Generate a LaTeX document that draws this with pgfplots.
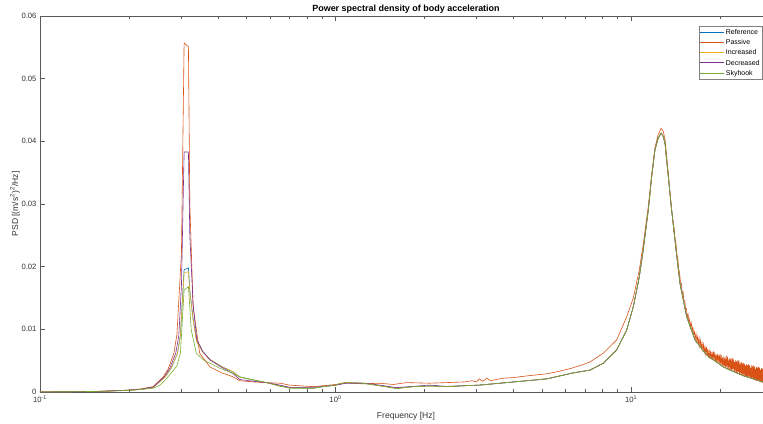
\documentclass[border=0pt]{standalone}
\usepackage{fontspec}
\setmainfont{Liberation Sans}
\usepackage{pgfplots}
\pgfplotsset{compat=1.18}
\definecolor{mBlue}{rgb}{0,0.447,0.741}
\definecolor{mOrange}{rgb}{0.85,0.325,0.098}
\definecolor{mYellow}{rgb}{0.929,0.694,0.125}
\definecolor{mPurple}{rgb}{0.494,0.184,0.556}
\definecolor{mGreen}{rgb}{0.466,0.674,0.188}
\begin{document}
\begin{tikzpicture}
\begin{semilogxaxis}[
  scale only axis, width=732bp, height=376bp,
  xmin=0.1, xmax=30, ymin=0, ymax=0.06,
  scaled y ticks=false,
  xtick={0.1,1,10},
  xticklabels={10\textsuperscript{-1},10\textsuperscript{0},10\textsuperscript{1}},
  minor xtick={0.2,0.3,0.4,0.5,0.6,0.7,0.8,0.9,2,3,4,5,6,7,8,9,20,30},
  ytick={0,0.01,0.02,0.03,0.04,0.05,0.06},
  yticklabels={0,0.01,0.02,0.03,0.04,0.05,0.06},
  major tick length=5bp, minor tick length=3bp,
  tick style={black!65, line width=0.5bp},
  axis line style={black!65, line width=0.5bp},
  ticklabel style={font=\fontsize{7.7}{9}\selectfont, text=black!80},
  every axis title shift=0pt,
  title={Power spectral density of body acceleration},
  title style={font=\fontsize{9}{10}\selectfont\bfseries, at={(axis description cs:0.5,1.019)}, anchor=center},
  xlabel={Frequency [Hz]},
  xlabel style={font=\fontsize{8.6}{10}\selectfont, text=black!80, at={(axis description cs:0.5,-0.0638)}, anchor=center},
  ylabel={PSD [(m/s\textsuperscript{2})\textsuperscript{2}/Hz]},
  ylabel style={font=\fontsize{8.6}{10}\selectfont, text=black!80, at={(axis description cs:-0.0342,0.5)}, anchor=center},
  legend style={font=\fontsize{7}{8}\selectfont, draw=black!50, line width=0.4bp,
    at={(1,1)}, anchor=north east, xshift=-10bp, yshift=-10bp,
    inner xsep=1bp, inner ysep=1bp, row sep=0pt,
    nodes={inner sep=1.2bp, text height=6.2bp, text depth=1.6bp}},
  legend cell align=left,
  legend image code/.code={\draw[#1, line width=0.8bp] (0bp,0bp) -- (24bp,0bp);},
  every axis plot/.append style={line width=0.6bp},
]
% Reference
\addplot[mBlue] coordinates {(0.1,0.00002)(0.13,0.00005)(0.16,0.0001)(0.2,0.00028)(0.22,0.00042)(0.2415,0.00075)(0.265,0.0024)(0.278,0.0038)(0.292,0.0062)(0.2987,0.0090)(0.3011,0.0122)(0.3074,0.0195)(0.3179,0.0198)(0.3214,0.0162)(0.3297,0.0117)(0.339,0.0081)(0.355,0.0065)(0.376,0.0052)(0.41,0.0041)(0.451,0.0032)(0.474,0.0024)(0.53,0.0019)(0.584,0.0015)(0.649,0.0010)(0.70,0.0007)(0.84,0.0006)(0.89,0.0008)(1.0,0.0011)(1.09,0.0015)(1.24,0.0014)(1.41,0.0010)(1.61,0.0006)(1.83,0.00085)(2.08,0.00096)(2.37,0.00085)(2.73,0.0010)(3.07,0.0011)(4.0,0.0016)(5.2,0.0021)(6.3,0.0030)(7.27,0.0035)(8.06,0.0046)(8.94,0.0067)(9.67,0.0099)(10.18,0.0136)(10.67,0.0184)(11.0,0.0227)(11.44,0.0290)(11.75,0.0344)(12.05,0.0386)(12.35,0.0405)(12.64,0.0413)(12.85,0.0408)(13.03,0.0397)(13.37,0.0344)(13.73,0.0290)(14.2,0.0227)(14.65,0.0173)(15.43,0.0120)(16.47,0.0083)(18.04,0.0059)(20.53,0.0040)(21.63,0.0035)(24,0.0026)(27.97,0.0016)(30,0.0014)};
% Passive
\addplot[mOrange] coordinates {(0.1,0.00002)(0.13,0.00005)(0.16,0.00012)(0.2,0.0003)(0.22,0.0005)(0.2415,0.00085)(0.261,0.0024)(0.271,0.0036)(0.284,0.0062)(0.2907,0.0092)(0.3011,0.0222)(0.3074,0.0557)(0.3179,0.0551)(0.3214,0.0300)(0.3297,0.0136)(0.347,0.0062)(0.376,0.0040)(0.41,0.0031)(0.451,0.0024)(0.474,0.0018)(0.53,0.0016)(0.584,0.0015)(0.649,0.0014)(0.70,0.0011)(0.84,0.00085)(0.89,0.00096)(1.0,0.0012)(1.09,0.0015)(1.24,0.0013)(1.41,0.0014)(1.57,0.0012)(1.74,0.0015)(2.08,0.0014)(2.37,0.0015)(2.73,0.0016)(2.9,0.0018)(3.0,0.0016)(3.07,0.0021)(3.15,0.0017)(3.25,0.0022)(3.35,0.0018)(3.5,0.0020)(3.7,0.0022)(4.0,0.0023)(4.5,0.0026)(5.2,0.0029)(5.7,0.0033)(6.3,0.0038)(6.8,0.0043)(7.27,0.0048)(8.06,0.0062)(8.94,0.0083)(9.67,0.0120)(10.18,0.0150)(10.67,0.0195)(11.0,0.0236)(11.44,0.0296)(11.75,0.0348)(12.05,0.0390)(12.35,0.0410)(12.64,0.0421)(12.85,0.0416)(13.03,0.0404)(13.37,0.0350)
(13.6,0.0307)(13.7,0.0291)(13.8,0.0282)(13.9,0.0268)(14.0,0.0261)(14.1,0.0244)(14.2,0.0237)(14.3,0.0220)(14.4,0.0214)(14.5,0.0196)(14.6,0.0191)(14.7,0.0175)(14.8,0.0174)(14.9,0.0159)(15.0,0.0160)(15.1,0.0145)(15.2,0.0146)(15.3,0.0132)(15.4,0.0133)(15.5,0.0120)(15.6,0.0124)(15.7,0.0112)(15.8,0.0116)(15.9,0.0104)
(16.0,0.0110)(16.1,0.0098)(16.2,0.0103)(16.3,0.0091)(16.4,0.0096)(16.5,0.0085)(16.6,0.0093)(16.7,0.0081)(16.8,0.0088)(16.9,0.0077)(17.0,0.0086)(17.1,0.0073)(17.2,0.0082)(17.3,0.0070)(17.4,0.0078)(17.5,0.0067)(17.6,0.0076)(17.7,0.0064)(17.8,0.0072)(17.9,0.0061)(18.0,0.0072)(18.1,0.0058)(18.2,0.0069)(18.3,0.0055)(18.4,0.0065)(18.5,0.0053)(18.6,0.0066)(18.7,0.0052)(18.8,0.0063)(18.9,0.0052)(19.0,0.0065)(19.1,0.0051)(19.2,0.0063)(19.3,0.0048)(19.4,0.0060)(19.5,0.0047)(19.6,0.0061)(19.7,0.0047)(19.8,0.0059)(19.9,0.0045)(20.0,0.0061)(20.1,0.0045)(20.2,0.0059)(20.3,0.0042)(20.4,0.0055)(20.5,0.0041)(20.6,0.0057)(20.7,0.0041)(20.8,0.0055)(20.9,0.0039)(21.0,0.0058)(21.1,0.0039)(21.2,0.0056)(21.3,0.0036)(21.4,0.0052)(21.5,0.0036)(21.6,0.0055)(21.7,0.0036)(21.8,0.0053)(21.9,0.0034)(22.0,0.0054)(22.1,0.0036)(22.2,0.0053)(22.3,0.0033)(22.4,0.0048)(22.5,0.0032)(22.6,0.0051)(22.7,0.0032)(22.8,0.0049)(22.9,0.0030)(23.0,0.0051)(23.1,0.0032)(23.2,0.0050)(23.3,0.0028)(23.4,0.0046)(23.5,0.0029)(23.6,0.0048)(23.7,0.0028)(23.8,0.0046)(23.9,0.0025)(24.0,0.0047)(24.1,0.0027)(24.2,0.0045)(24.3,0.0024)(24.4,0.0042)(24.5,0.0024)(24.6,0.0044)(24.7,0.0024)(24.8,0.0043)(24.9,0.0023)(25.0,0.0045)(25.1,0.0024)(25.2,0.0043)(25.3,0.0022)(25.4,0.0039)(25.5,0.0021)(25.6,0.0043)(25.7,0.0022)(25.8,0.0041)(25.9,0.0020)(26.0,0.0043)(26.1,0.0021)(26.2,0.0041)(26.3,0.0018)(26.4,0.0037)(26.5,0.0018)(26.6,0.0040)(26.7,0.0018)(26.8,0.0039)(26.9,0.0017)(27.0,0.0040)(27.1,0.0018)(27.2,0.0039)(27.3,0.0016)(27.4,0.0035)(27.5,0.0015)(27.6,0.0038)(27.7,0.0016)(27.8,0.0037)(27.9,0.0014)(28.0,0.0038)(28.1,0.0016)(28.2,0.0037)(28.3,0.0013)(28.4,0.0033)};
% Increased
\addplot[mYellow] coordinates {(0.1,0.00002)(0.13,0.00005)(0.16,0.0001)(0.2,0.00028)(0.22,0.00042)(0.2415,0.00075)(0.265,0.0024)(0.278,0.0038)(0.292,0.0062)(0.2987,0.0090)(0.3011,0.0120)(0.3074,0.0190)(0.3179,0.0192)(0.3214,0.0160)(0.3297,0.0115)(0.339,0.0080)(0.355,0.0064)(0.376,0.0052)(0.41,0.0041)(0.451,0.0032)(0.474,0.0024)(0.53,0.0019)(0.584,0.0015)(0.649,0.0010)(0.70,0.0007)(0.84,0.0006)(0.89,0.0008)(1.0,0.0011)(1.09,0.0015)(1.24,0.0014)(1.41,0.0010)(1.61,0.0006)(1.83,0.00085)(2.08,0.00096)(2.37,0.00085)(2.73,0.0010)(3.07,0.0011)(4.0,0.0016)(5.2,0.0021)(6.3,0.0030)(7.27,0.0035)(8.06,0.0046)(8.94,0.0067)(9.67,0.0099)(10.18,0.0136)(10.67,0.0184)(11.0,0.0227)(11.44,0.0290)(11.75,0.0344)(12.05,0.0386)(12.35,0.0405)(12.64,0.0413)(12.85,0.0408)(13.03,0.0397)(13.37,0.0344)(13.73,0.0290)(14.2,0.0227)(14.65,0.0173)(15.43,0.0120)(16.47,0.0083)(18.04,0.0059)(20.53,0.0040)(21.63,0.0035)(24,0.0026)(27.97,0.0016)(30,0.0014)};
% Decreased
\addplot[mPurple] coordinates {(0.1,0.00002)(0.13,0.00005)(0.16,0.00011)(0.2,0.0003)(0.22,0.00045)(0.2415,0.0008)(0.263,0.0024)(0.275,0.0038)(0.288,0.0062)(0.2950,0.0090)(0.3011,0.0170)(0.3074,0.0383)(0.3179,0.0383)(0.3214,0.0250)(0.3297,0.0140)(0.339,0.0085)(0.355,0.0065)(0.376,0.0051)(0.41,0.0040)(0.451,0.0029)(0.474,0.0020)(0.53,0.0017)(0.584,0.0015)(0.649,0.0011)(0.70,0.00075)(0.84,0.00075)(0.89,0.00085)(1.0,0.0011)(1.09,0.0014)(1.27,0.0014)(1.41,0.0011)(1.61,0.0007)(1.83,0.0009)(2.08,0.0011)(2.37,0.0009)(2.73,0.0010)(3.07,0.0011)(4.0,0.0016)(5.2,0.0021)(6.3,0.0030)(7.27,0.0035)(8.06,0.0046)(8.94,0.0067)(9.67,0.0099)(10.18,0.0136)(10.67,0.0184)(11.0,0.0227)(11.44,0.0290)(11.75,0.0344)(12.05,0.0386)(12.35,0.0405)(12.64,0.0413)(12.85,0.0408)(13.03,0.0397)(13.37,0.0344)(13.73,0.0290)(14.2,0.0227)(14.65,0.0173)(15.43,0.0120)(16.47,0.0083)(18.04,0.0059)(20.53,0.0040)(21.63,0.0035)(24,0.0026)(27.97,0.0016)(30,0.0014)};
% Skyhook
\addplot[mGreen] coordinates {(0.1,0.00002)(0.13,0.00005)(0.16,0.0001)(0.2,0.00025)(0.22,0.0004)(0.2415,0.0006)(0.255,0.0011)(0.271,0.0024)(0.282,0.0034)(0.2907,0.0042)(0.2987,0.0062)(0.3011,0.0090)(0.3074,0.0163)(0.3179,0.0168)(0.3214,0.0135)(0.325,0.0099)(0.338,0.0062)(0.36,0.0050)(0.376,0.0046)(0.41,0.0037)(0.45,0.0030)(0.474,0.0024)(0.53,0.0019)(0.584,0.0015)(0.649,0.0009)(0.70,0.0006)(0.84,0.0006)(0.89,0.0008)(1.0,0.0011)(1.04,0.0014)(1.09,0.0015)(1.24,0.0014)(1.41,0.0010)(1.61,0.00053)(1.83,0.00085)(2.08,0.00096)(2.37,0.00085)(2.73,0.0010)(3.07,0.0011)(4.0,0.0016)(5.2,0.0021)(6.3,0.0030)(7.27,0.0035)(8.06,0.0046)(8.94,0.0067)(9.67,0.0099)(10.18,0.0136)(10.67,0.0184)(11.0,0.0227)(11.44,0.0290)(11.75,0.0344)(12.05,0.0386)(12.35,0.0405)(12.64,0.0413)(12.85,0.0408)(13.03,0.0397)(13.37,0.0344)(13.73,0.0290)(14.2,0.0227)(14.65,0.0173)(15.43,0.0120)(16.47,0.0083)(18.04,0.0059)(20.53,0.0040)(21.63,0.0035)(24,0.0026)(27.97,0.0016)(30,0.0014)};
\legend{Reference,Passive,Increased,Decreased,Skyhook}
\end{semilogxaxis}
\pgfresetboundingbox
\path[use as bounding box] ([xshift=-40bp,yshift=-32bp]current axis.south west) rectangle ([xshift=723bp,yshift=16bp]current axis.north west);
\end{tikzpicture}
\end{document}
